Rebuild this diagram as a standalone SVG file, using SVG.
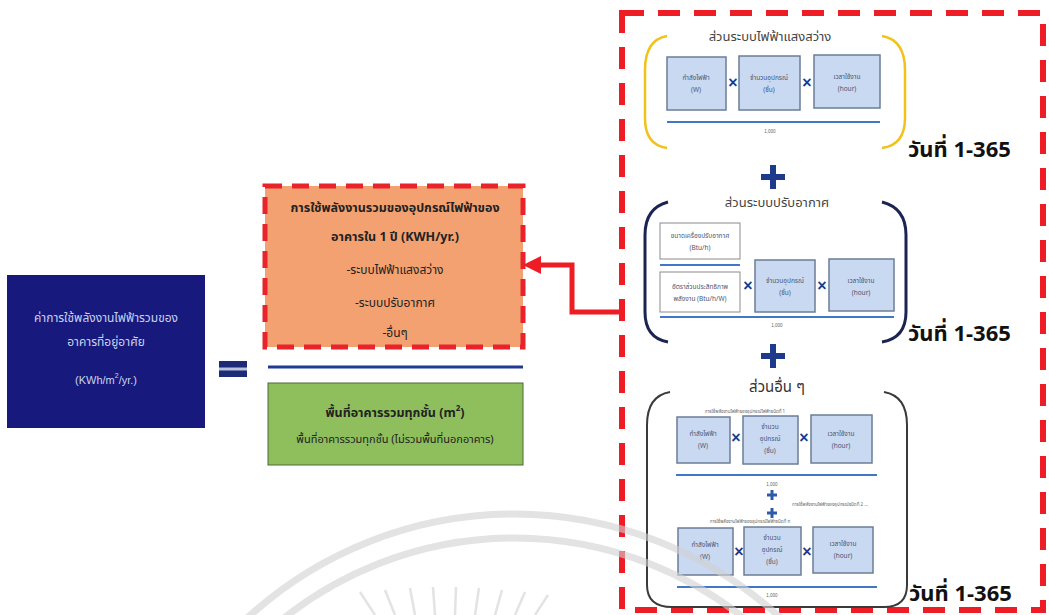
<svg xmlns="http://www.w3.org/2000/svg" width="1049" height="615" viewBox="0 0 1049 615">
<style>
.th{font-family:"Noto Sans Thai","Tahoma","Loma","Noto Sans",sans-serif}
.sm{font-size:6.5px;fill:#4a5570;text-anchor:middle}
.tiny{font-size:4.5px;fill:#666;text-anchor:middle}
.bx{fill:#c9d9f1;stroke:#6c7c96;stroke-width:1.5}
.wb{fill:#fff;stroke:#8a8a8a;stroke-width:1}
.ln{stroke:#3f78c8;stroke-width:1.8}
.x{font-family:"Liberation Sans",sans-serif;font-size:16px;font-weight:bold;fill:#1e3a8a;text-anchor:middle}
.day{font-size:22px;font-weight:bold;fill:#111}
.ttl{font-size:13px;fill:#444;text-anchor:middle}
.plus{stroke:#1e3a8a;stroke-width:6}
.plus2{stroke:#2f5aa8;stroke-width:3}
</style>
<rect width="1049" height="615" fill="#fff"/>

<g id="node-left">
<rect x="7" y="275" width="198" height="153" fill="#18197c"/>
<text class="th" x="106" y="322" font-size="12" fill="#c8d3f0" text-anchor="middle">ค่าการใช้พลังงานไฟฟ้ารวมของ</text>
<text class="th" x="106" y="346" font-size="12" fill="#c8d3f0" text-anchor="middle">อาคารที่อยู่อาศัย</text>
<text x="106" y="384" font-family="Liberation Sans,sans-serif" font-size="11" fill="#c8d3f0" text-anchor="middle">(KWh/m<tspan dy="-6" font-size="7">2</tspan><tspan dy="6">/yr.)</tspan></text>
</g>

<g id="equals">
<rect x="219" y="361" width="28" height="16" fill="#b9c3dc"/>
<rect x="219" y="361" width="28" height="6.5" fill="#1c2a78"/>
<rect x="219" y="370.5" width="28" height="6.5" fill="#1c2a78"/>
</g>

<g id="node-energy">
<rect x="265" y="186" width="258" height="161" fill="#f3a170" stroke="#e8232b" stroke-width="5" stroke-dasharray="17 10"/>
<text class="th" x="395" y="212" font-size="12.5" font-weight="bold" fill="#222" text-anchor="middle">การใช้พลังงานรวมของอุปกรณ์ไฟฟ้าของ</text>
<text class="th" x="395" y="241" font-size="12.5" font-weight="bold" fill="#222" text-anchor="middle">อาคารใน 1 ปี (KWH/yr.)</text>
<text class="th" x="395" y="274" font-size="12" fill="#222" text-anchor="middle">-ระบบไฟฟ้าแสงสว่าง</text>
<text class="th" x="395" y="307" font-size="12" fill="#222" text-anchor="middle">-ระบบปรับอากาศ</text>
<text class="th" x="395" y="337" font-size="12" fill="#222" text-anchor="middle">-อื่นๆ</text>
</g>

<g id="divider">
<line x1="268" y1="367" x2="523" y2="367" stroke="#1f3a93" stroke-width="3"/>
</g>

<g id="node-area">
<rect x="268" y="383" width="255" height="82" fill="#8fbf5c" stroke="#4d6b35" stroke-width="1"/>
<text class="th" x="395" y="417" font-size="12.5" font-weight="bold" fill="#222" text-anchor="middle">พื้นที่อาคารรวมทุกชั้น (m<tspan dy="-6" font-size="8">2</tspan><tspan dy="6">)</tspan></text>
<text class="th" x="395" y="443" font-size="11" fill="#222" text-anchor="middle">พื้นที่อาคารรวมทุกชั้น (ไม่รวมพื้นที่นอกอาคาร)</text>
</g>

<g id="node-components">
<rect x="622" y="13" width="421" height="597" fill="none" stroke="#ee1c25" stroke-width="6" stroke-dasharray="22 14"/>

<g id="lighting">
<text class="th ttl" x="770" y="41">ส่วนระบบไฟฟ้าแสงสว่าง</text>
<path d="M667 36 Q645 40 645 70 L645 118 Q645 145 667 148" fill="none" stroke="#f2c21b" stroke-width="2.5"/>
<path d="M882 36 Q905 40 905 70 L905 118 Q905 145 882 148" fill="none" stroke="#f2c21b" stroke-width="2.5"/>
<rect class="bx" x="667" y="57" width="59" height="53"/>
<rect class="bx" x="739" y="56" width="61" height="54"/>
<rect class="bx" x="814" y="55" width="66" height="53"/>
<text class="th sm" x="696" y="80">กำลังไฟฟ้า</text><text class="th sm" x="696" y="92">(W)</text>
<text class="th sm" x="769" y="80">จำนวนอุปกรณ์</text><text class="th sm" x="769" y="92">(ชิ้น)</text>
<text class="th sm" x="847" y="79">เวลาใช้งาน</text><text class="th sm" x="847" y="91">(hour)</text>
<text class="x" x="733" y="88">×</text><text class="x" x="807" y="88">×</text>
<line class="ln" x1="667" y1="122" x2="880" y2="122"/>
<text class="tiny" x="770" y="133" font-family="Liberation Sans,sans-serif">1,000</text>
<text class="th day" x="908" y="157">วันที่ 1-365</text>
</g>

<line class="plus" x1="761" y1="177" x2="785" y2="177"/>
<line class="plus" x1="773" y1="165" x2="773" y2="189"/>

<g id="aircon">
<text class="th ttl" x="777" y="207">ส่วนระบบปรับอากาศ</text>
<path d="M668 202 Q645 208 645 235 L645 312 Q645 338 668 342" fill="none" stroke="#1c2451" stroke-width="3"/>
<path d="M882 202 Q906 208 906 235 L906 312 Q906 338 882 342" fill="none" stroke="#1c2451" stroke-width="3"/>
<rect class="wb" x="660" y="223" width="80" height="36"/>
<text class="th sm" x="700" y="238">ขนาดเครื่องปรับอากาศ</text><text class="th sm" x="700" y="250">(Btu/h)</text>
<line class="ln" x1="660" y1="265" x2="740" y2="265"/>
<rect class="wb" x="660" y="272" width="80" height="40"/>
<text class="th sm" x="700" y="289">อัตราส่วนประสิทธิภาพ</text><text class="th sm" x="700" y="301">พลังงาน (Btu/h/W)</text>
<rect class="bx" x="755" y="260" width="60" height="52"/>
<rect class="bx" x="829" y="259" width="65" height="52"/>
<text class="th sm" x="785" y="283">จำนวนอุปกรณ์</text><text class="th sm" x="785" y="295">(ชิ้น)</text>
<text class="th sm" x="861" y="283">เวลาใช้งาน</text><text class="th sm" x="861" y="295">(hour)</text>
<text class="x" x="748" y="291">×</text><text class="x" x="822" y="291">×</text>
<line class="ln" x1="660" y1="317" x2="894" y2="317"/>
<text class="tiny" x="777" y="327" font-family="Liberation Sans,sans-serif">1,000</text>
<text class="th day" x="908" y="341">วันที่ 1-365</text>
</g>

<line class="plus" x1="761" y1="356" x2="785" y2="356"/>
<line class="plus" x1="773" y1="344" x2="773" y2="368"/>

<g id="others">
<text class="th" x="777" y="392" font-size="15" fill="#333" text-anchor="middle">ส่วนอื่น ๆ</text>
<path d="M670 392 Q647 396 647 425 L647 585 Q647 607 672 607 L884 607 Q907 607 907 585 L907 425 Q907 396 884 392" fill="none" stroke="#3a3a3a" stroke-width="2"/>
<text class="th tiny" x="745" y="413">การใช้พลังงานไฟฟ้าของอุปกรณ์ไฟฟ้าชนิดที่ 1</text>
<rect class="bx" x="677" y="417" width="53" height="46"/>
<rect class="bx" x="743" y="416" width="55" height="48"/>
<rect class="bx" x="811" y="415" width="61" height="48"/>
<text class="th sm" x="703" y="436">กำลังไฟฟ้า</text><text class="th sm" x="703" y="448">(W)</text>
<text class="th sm" x="770" y="429">จำนวน</text><text class="th sm" x="770" y="441">อุปกรณ์</text><text class="th sm" x="770" y="453">(ชิ้น)</text>
<text class="th sm" x="841" y="436">เวลาใช้งาน</text><text class="th sm" x="841" y="448">(hour)</text>
<text class="x" x="736" y="443">×</text><text class="x" x="804" y="443">×</text>
<line class="ln" x1="676" y1="475" x2="877" y2="475"/>
<text class="tiny" x="772" y="486" font-family="Liberation Sans,sans-serif">1,000</text>
<line class="plus2" x1="767" y1="495" x2="777" y2="495"/><line class="plus2" x1="772" y1="490" x2="772" y2="500"/>
<line class="plus2" x1="767" y1="513" x2="777" y2="513"/><line class="plus2" x1="772" y1="508" x2="772" y2="518"/>
<text class="th tiny" x="830" y="506">การใช้พลังงานไฟฟ้าของอุปกรณ์ชนิดที่ 2 ...</text>
<text class="th tiny" x="750" y="523">การใช้พลังงานไฟฟ้าของอุปกรณ์ไฟฟ้าชนิดที่ n</text>
<rect class="bx" x="678" y="528" width="55" height="47"/>
<rect class="bx" x="744" y="527" width="57" height="48"/>
<rect class="bx" x="813" y="527" width="60" height="46"/>
<text class="th sm" x="705" y="547">กำลังไฟฟ้า</text><text class="th sm" x="705" y="559">(W)</text>
<text class="th sm" x="772" y="540">จำนวน</text><text class="th sm" x="772" y="552">อุปกรณ์</text><text class="th sm" x="772" y="564">(ชิ้น)</text>
<text class="th sm" x="843" y="546">เวลาใช้งาน</text><text class="th sm" x="843" y="558">(hour)</text>
<text class="x" x="739" y="557">×</text><text class="x" x="807" y="557">×</text>
<line class="ln" x1="677" y1="587" x2="877" y2="587"/>
<text class="tiny" x="772" y="597" font-family="Liberation Sans,sans-serif">1,000</text>
<text class="th day" x="909" y="601">วันที่ 1-365</text>
</g>
</g>

<g id="connectors">
<polyline points="622,312 572,312 572,265 538,265" fill="none" stroke="#ee1c25" stroke-width="5" stroke-linejoin="miter"/>
<polygon points="523,265 541,256 541,274" fill="#ee1c25"/>
</g>

<g id="watermark" fill="none" stroke="#d2d2d2" opacity="0.6">
<circle cx="514" cy="908" r="394" stroke-width="7"/>
<circle cx="514" cy="908" r="370" stroke-width="7"/>
<g stroke-width="2.5">
<line x1="375" y1="615" x2="360" y2="592"/>
<line x1="395" y1="615" x2="385" y2="590"/>
<line x1="415" y1="615" x2="410" y2="588"/>
<line x1="435" y1="615" x2="433" y2="587"/>
<line x1="455" y1="615" x2="456" y2="587"/>
<line x1="475" y1="615" x2="479" y2="588"/>
<line x1="495" y1="615" x2="502" y2="590"/>
<line x1="515" y1="615" x2="525" y2="592"/>
<line x1="535" y1="615" x2="548" y2="595"/>
</g>
</g>
</svg>
